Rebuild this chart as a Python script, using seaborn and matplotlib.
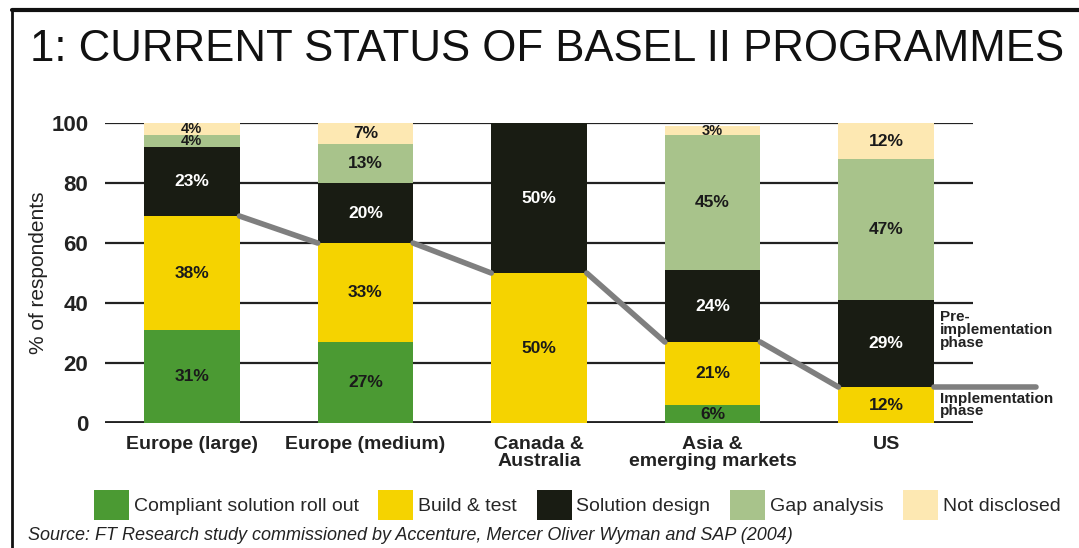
"""Stacked bar chart: current status of Basel II programmes."""

import matplotlib

matplotlib.use("Agg")

import matplotlib.pyplot as plt
import numpy as np
import seaborn as sns
from matplotlib.lines import Line2D
from matplotlib.patches import Patch

regions = ["Europe (large)", "Europe (medium)", "Canada &\nAustralia",
           "Asia &\nemerging markets", "US"]
stages = ["Compliant solution roll out", "Build & test", "Solution design",
          "Gap analysis", "Not disclosed"]
rollout = [31, 27, 0, 6, 0]
build_test = [38, 33, 50, 21, 12]
solution_design = [23, 20, 50, 24, 29]
gap_analysis = [4, 13, 0, 45, 47]
not_disclosed = [4, 7, 0, 3, 12]
y_ticks = [0, 20, 40, 60, 80, 100]

colors = ["#4b9a33", "#f5d300", "#191c13", "#a8c38b", "#fde8b2"]
label_colors = ["#1a1a1a", "#1a1a1a", "white", "#1a1a1a", "#1a1a1a"]

sns.set_theme(style="white")
plt.rcParams["font.family"] = ["Liberation Sans", "DejaVu Sans"]

fig = plt.figure(figsize=(10.79, 5.48), dpi=100)
ax = fig.add_axes([0.0973, 0.228, 0.8045, 0.5475])

bar_width = 0.55
series = [rollout, build_test, solution_design, gap_analysis, not_disclosed]
bottom = np.zeros(len(regions))
for values, color, tcolor in zip(series, colors, label_colors):
    values = np.array(values, dtype=float)
    sns.barplot(x=regions, y=values, bottom=bottom, color=color, width=bar_width,
                saturation=1, linewidth=0, ax=ax, zorder=3)
    for i, v in enumerate(values):
        if v > 0:
            # thin segments get a slightly smaller label so they don't collide
            size = 10.5 if v < 5 else 12.5
            ax.text(i, bottom[i] + v / 2, f"{int(v)}%", ha="center", va="center",
                    fontsize=size, fontweight="bold", color=tcolor, zorder=5)
    bottom += values

# grey line joining the implementation / pre-implementation boundary between bars
impl = np.array(rollout) + np.array(build_test)
for i in range(len(impl) - 1):
    ax.plot([i + bar_width / 2, i + 1 - bar_width / 2], [impl[i], impl[i + 1]],
            color="#7f7f7f", lw=4, zorder=4, solid_capstyle="round")
ax.plot([len(impl) - 1 + bar_width / 2, 4.86], [impl[-1], impl[-1]],
        color="#7f7f7f", lw=4, zorder=4, clip_on=False, solid_capstyle="round")

for y in y_ticks:
    ax.axhline(y, color="#222222", lw=3.5 if y == 0 else 1.6, zorder=1)

ax.set_ylim(0, 100)
ax.set_xlim(-0.5, 4.5)
ax.set_yticks(y_ticks)
ax.tick_params(axis="y", length=0, labelsize=16, pad=12, labelcolor="#222222")
ax.tick_params(axis="x", length=0, labelsize=14, pad=9, labelcolor="#222222")
for lbl in ax.get_xticklabels() + ax.get_yticklabels():
    lbl.set_fontweight("bold")
for lbl in ax.get_xticklabels():
    lbl.set_linespacing(1.05)
ax.set_ylabel("% of respondents", fontsize=15, color="#222222", labelpad=2)
ax.set_xlabel("")
sns.despine(ax=ax, left=True, bottom=True)

ax.text(4.31, 31, "Pre-\nimplementation\nphase", fontsize=11, fontweight="bold",
        color="#222222", va="center", ha="left", linespacing=0.95, clip_on=False)
ax.text(4.31, 6, "Implementation\nphase", fontsize=11, fontweight="bold",
        color="#222222", va="center", ha="left", linespacing=0.85, clip_on=False)

fig.text(0.028, 0.909, "1: CURRENT STATUS OF BASEL II PROGRAMMES", fontsize=31.5,
         color="#111111", va="center", ha="left")

handles = [Patch(facecolor=c, edgecolor="none") for c in colors]
fig.legend(handles, stages, loc="center", bbox_to_anchor=(0.535, 0.078), ncol=5,
           frameon=False, fontsize=14, handlelength=1.8, handleheight=2.0,
           handletextpad=0.25, columnspacing=1.0)

fig.text(0.026, 0.022, "Source: FT Research study commissioned by Accenture, "
         "Mercer Oliver Wyman and SAP (2004)", fontsize=13, style="italic",
         color="#222222", va="center", ha="left")

# frame lines along the top and left edges
fig.add_artist(Line2D([0.011, 1.0], [0.982, 0.982], color="#111111", lw=3,
                      transform=fig.transFigure))
fig.add_artist(Line2D([0.011, 0.011], [0.0, 0.982], color="#111111", lw=2,
                      transform=fig.transFigure))

fig.savefig("out.png", dpi=100)
